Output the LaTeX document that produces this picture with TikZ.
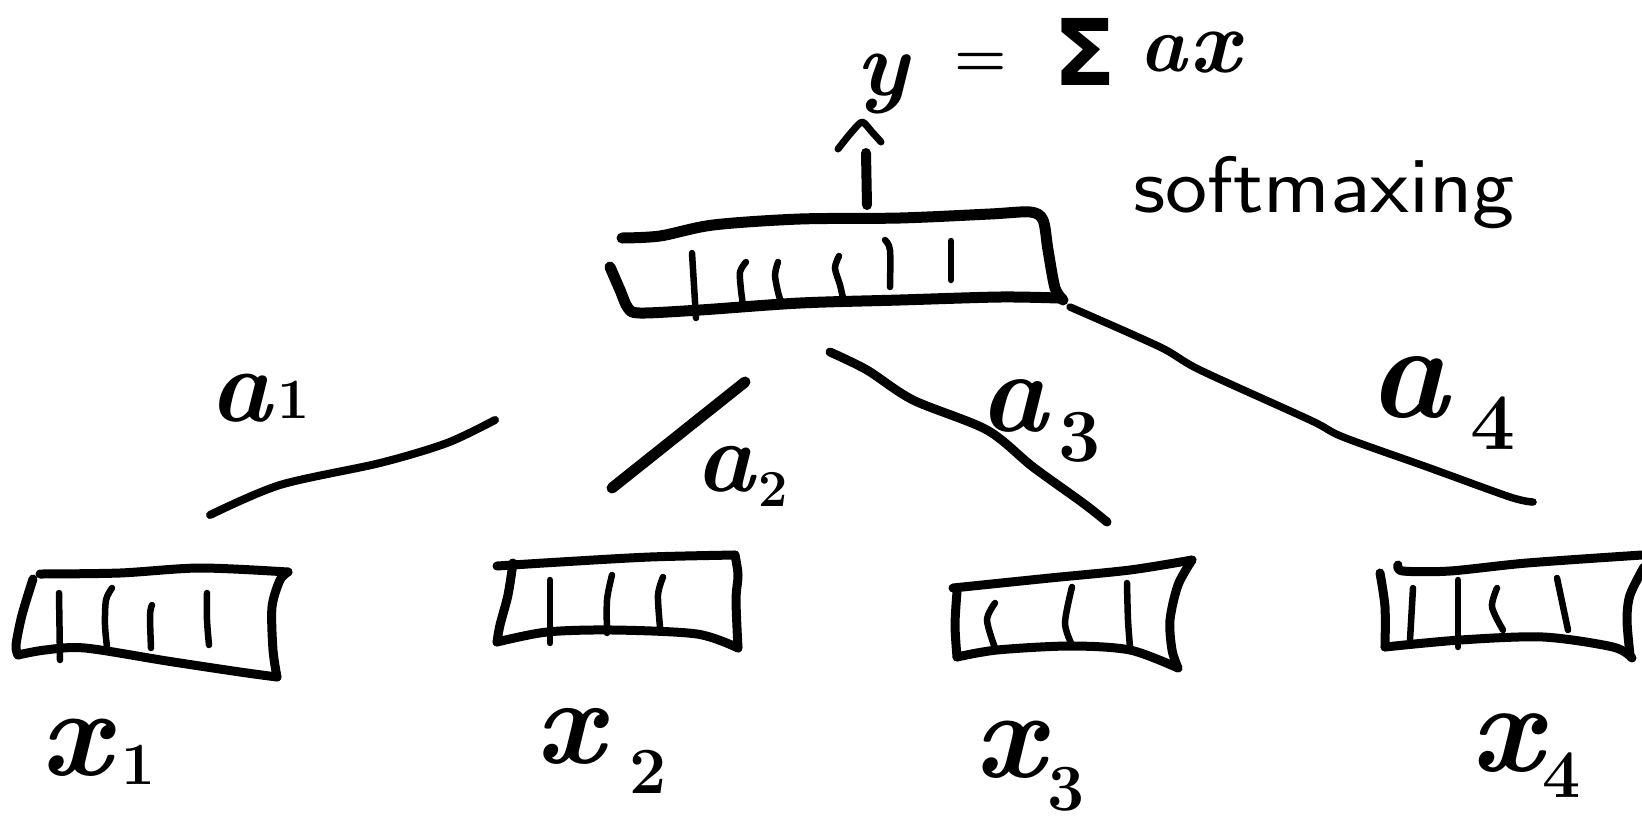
\documentclass[tikz,border=0pt]{standalone}
\usepackage{fontspec}
\newfontfamily\symfont{DejaVu Sans}
\usetikzlibrary{arrows.meta}
\newcommand{\fsz}[1]{\fontsize{#1}{#1}\selectfont}
\begin{document}
\begin{tikzpicture}[x=1pt,y=-1pt,
  topbox/.style={line width=11pt,line cap=round,line join=round},
  subbox/.style={line width=9pt,line cap=round,line join=round},
  tickln/.style={line width=6.5pt,line cap=round},
  edge/.style={line width=9pt,line cap=round},
  lbl/.style={inner sep=0pt,outer sep=0pt},
  hand/.style={lbl,font=\fsz{#1}\bfseries\itshape},
  digit/.style={lbl,font=\fsz{#1}\bfseries},
]
\useasboundingbox[fill=white] (0,0) rectangle (1642,823);

% ---------- top (output) box ----------
\coordinate (stemB) at (867,205);
\coordinate (stemT) at (866,153);
\draw[topbox] plot[smooth,tension=0.5] coordinates {(622,238) (660,236) (713,225) (800,219) (900,218) (990,214) (1030,212) (1043,220) (1048,250) (1055,288) (1063,300)};
\draw[topbox] plot[smooth,tension=0.5] coordinates {(610,267) (620,290) (628,308) (640,313) (700,310) (800,303) (900,300) (1000,297) (1058,298)};
\draw[tickln] (692,253) -- (696,318);
\draw[tickln] plot[smooth] coordinates {(746,262) (740,272) (741,290) (743,305)};
\draw[tickln] plot[smooth] coordinates {(778,262) (775,275) (778,292) (781,302)};
\draw[tickln] plot[smooth] coordinates {(839,256) (835,268) (840,285) (843,298)};
\draw[tickln] plot[smooth] coordinates {(885,240) (890,250) (890,287)};
\draw[tickln] (951,241) -- (951,280);
\draw[line width=10pt,line cap=round] (stemB) -- (stemT);
\draw[line width=7pt,line cap=round,line join=round] plot[smooth,tension=0.4] coordinates {(838,149) (850,134) (862,122) (872,132) (881,142)};

% ---------- equation & note ----------
\node[hand=92] (eqy) at (882,84) {y};
\node[lbl,font=\fsz{60}\bfseries] (eqeq) at (981,65) {=};
\node[lbl,font=\fsz{92}\symfont\bfseries] (eqsum) at (1085,52) {Σ};
\node[hand=80] (eqa) at (1163,54) {a};
\node[hand=90] (eqx) at (1215,53) {x};
\node[lbl,anchor=base west,font=\fsz{80}\sffamily] (soft) at (1133,212) {\scalebox{1.12}[1]{softmaxing}};

% ---------- weight edges ----------
\coordinate (e1s) at (210,515); \coordinate (e1e) at (495,420);
\coordinate (e2s) at (612,488); \coordinate (e2e) at (745,382);
\coordinate (e3s) at (830,352); \coordinate (e3e) at (1107,522);
\coordinate (e4s) at (1070,307); \coordinate (e4e) at (1533,502);
\draw[edge,line width=8pt] plot[smooth] coordinates {(e1s) (280,485) (380,463) (447,443) (e1e)};
\draw[edge,line width=11pt] (e2s) -- (e2e);
\draw[edge] plot[smooth] coordinates {(e3s) (867,370) (913,400) (987,430) (1033,467) (1083,503) (e3e)};
\draw[edge,line width=7.5pt] plot[smooth] coordinates {(e4s) (1160,347) (1200,370) (1310,420) (1343,437) (1427,467) (1510,497) (e4e)};

\node[hand=105] (a1) at (241,398) {a};
\node[digit=57] (a1s) at (294,400) {1};
\node[hand=100] (a2) at (725,469) {a};
\node[digit=52] (a2s) at (773,489) {2};
\node[hand=115] (a3) at (1013,406) {a};
\node[digit=75] (a3s) at (1080,437) {3};
\node[hand=135] (a4) at (1408,388) {a};
\node[digit=80] (a4s) at (1493,423) {4};

% ---------- input box 1 ----------
\draw[subbox] plot[smooth] coordinates {(40,574) (120,573) (200,568) (288,572)};
\draw[subbox] plot[smooth] coordinates {(288,572) (280,580) (272,607) (273,650) (277,677)};
\draw[subbox] plot[smooth] coordinates {(33,579) (22,615) (16,645) (18,655)};
\draw[subbox] plot[smooth] coordinates {(18,655) (45,650) (85,648) (167,661) (240,672) (277,677)};
\draw[tickln] (59,593) -- (60,660);
\draw[tickln] plot[smooth] coordinates {(112,588) (106,600) (105,625) (107,647)};
\draw[tickln] plot[smooth] coordinates {(152,605) (150,615) (151,648)};
\draw[tickln] plot[smooth] coordinates {(207,593) (207,620) (209,645)};
\node[hand=125] (x1) at (76,748) {x};
\node[digit=60] (x1s) at (138,765) {1};

% ---------- input box 2 ----------
\draw[subbox] plot[smooth] coordinates {(497,566) (560,562) (650,557) (735,555)};
\draw[subbox] plot[smooth] coordinates {(513,563) (508,595) (500,625) (497,642)};
\draw[subbox] plot[smooth] coordinates {(497,642) (547,632) (613,630) (697,634) (738,648)};
\draw[subbox] plot[smooth] coordinates {(735,555) (738,575) (736,600) (738,648)};
\draw[tickln] (550,580) -- (550,643);
\draw[tickln] plot[smooth] coordinates {(612,575) (607,600) (607,633)};
\draw[tickln] plot[smooth] coordinates {(663,577) (658,595) (660,627)};
\node[hand=122] (x2) at (570,736) {x};
\node[digit=66] (x2s) at (648,772) {2};

% ---------- input box 3 ----------
\draw[subbox] plot[smooth] coordinates {(953,588) (1050,578) (1130,570) (1192,560)};
\draw[subbox] plot[smooth] coordinates {(957,592) (955,625) (957,657)};
\draw[subbox] plot[smooth] coordinates {(957,657) (997,650) (1070,646) (1130,650) (1178,668)};
\draw[subbox] plot[smooth] coordinates {(1192,560) (1178,585) (1170,620) (1172,650) (1178,668)};
\draw[tickln] plot[smooth] coordinates {(995,603) (987,620) (995,648)};
\draw[tickln] plot[smooth] coordinates {(1072,587) (1065,623) (1072,645)};
\draw[tickln] plot[smooth] coordinates {(1127,583) (1128,620) (1130,647)};
\node[hand=125] (x3) at (1010,750) {x};
\node[digit=66] (x3s) at (1066,789) {3};

% ---------- input box 4 ----------
\draw[subbox] plot[smooth] coordinates {(1398,565) (1403,571) (1450,571) (1527,563) (1642,555)};
\draw[subbox] plot[smooth] coordinates {(1380,573) (1385,607) (1385,647)};
\draw[subbox] plot[smooth] coordinates {(1385,647) (1460,640) (1543,637) (1613,647) (1632,658)};
\draw[subbox] plot[smooth] coordinates {(1644,567) (1630,595) (1627,620) (1630,655)};
\draw[tickln] (1413,588) -- (1410,640);
\draw[tickln] (1458,580) -- (1458,647);
\draw[tickln] plot[smooth] coordinates {(1497,588) (1492,607) (1503,630)};
\draw[tickln] (1557,578) -- (1568,630);
\node[hand=128] (x4) at (1506,743) {x};
\node[digit=68] (x4s) at (1562,775) {4};
\end{tikzpicture}
\end{document}
